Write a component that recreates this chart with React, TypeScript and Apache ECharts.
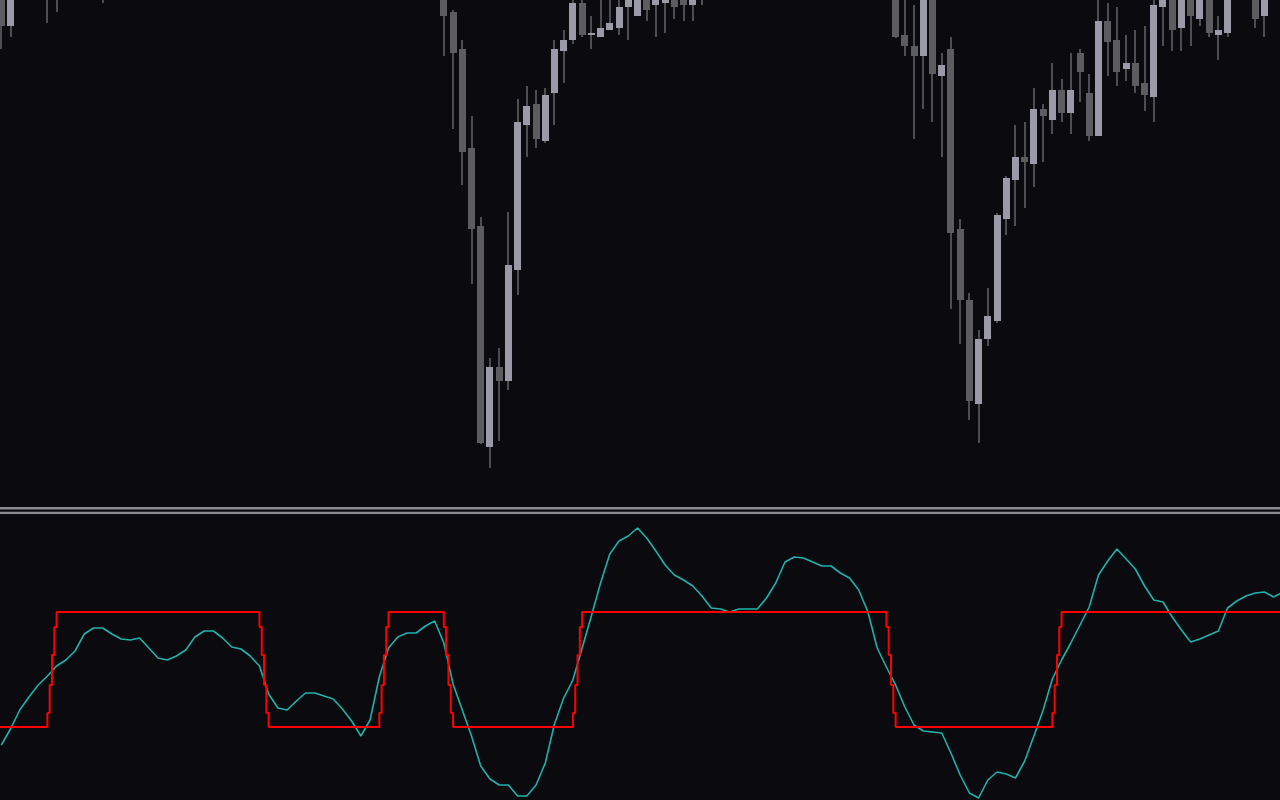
import React, { useEffect, useRef } from "react";
import * as echarts from "echarts";

// ---- Data ----
// Candles: [open, close, low, high]
const ohlc: number[][] = [
  [1030, 974, 951, 1045], [974, 1020, 963, 1030], [1018, 1035, 1008, 1042], [1035, 1028, 1015, 1048],
  [1028, 1040, 1020, 1050], [1040, 1025, 977, 1052], [1025, 1038, 988, 1055], [1038, 1050, 1030, 1062],
  [1050, 1045, 1036, 1066], [1045, 1058, 1040, 1070], [1058, 1052, 1041, 1068], [1052, 1040, 997, 1060],
  [1040, 1055, 1030, 1062], [1055, 1062, 1046, 1071], [1062, 1050, 1044, 1068], [1050, 1066, 1045, 1074],
  [1066, 1078, 1058, 1085], [1078, 1070, 1062, 1088], [1070, 1082, 1064, 1090], [1082, 1090, 1075, 1098],
  [1090, 1080, 1072, 1096], [1080, 1072, 1064, 1088], [1072, 1085, 1066, 1092], [1085, 1094, 1078, 1102],
  [1094, 1088, 1080, 1100], [1088, 1100, 1082, 1108], [1100, 1092, 1084, 1106], [1092, 1078, 1070, 1097],
  [1078, 1068, 1058, 1084], [1068, 1075, 1060, 1082], [1075, 1064, 1056, 1080], [1064, 1072, 1058, 1079],
  [1072, 1085, 1066, 1092], [1085, 1093, 1079, 1100], [1093, 1086, 1078, 1099], [1086, 1098, 1080, 1105],
  [1098, 1090, 1082, 1104], [1090, 1080, 1072, 1095], [1080, 1070, 1062, 1086], [1070, 1076, 1062, 1083],
  [1076, 1066, 1058, 1081], [1066, 1058, 1048, 1072], [1058, 1064, 1050, 1070], [1064, 1052, 1044, 1069],
  [1052, 1045, 1036, 1058], [1045, 1050, 1038, 1056], [1050, 1040, 1030, 1055], [1040, 1018, 1012, 1046],
  [1016, 984, 944, 1024], [988, 947, 871, 990], [951, 848, 815, 960], [852, 771, 716, 884],
  [774, 557, 556, 783], [553, 633, 532, 642], [633, 619, 559, 652], [619, 735, 610, 788],
  [730, 878, 705, 901], [875, 894, 843, 914], [896, 861, 852, 910], [859, 905, 857, 912],
  [907, 951, 875, 960], [949, 960, 917, 970], [960, 997, 956, 1005], [997, 965, 963, 1008],
  [965, 967, 951, 984], [963, 972, 963, 1010], [970, 977, 970, 1012], [972, 993, 965, 1005],
  [993, 1003, 960, 1010], [984, 1003, 984, 1012], [1005, 990, 979, 1015], [995, 1006, 963, 1015],
  [997, 1005, 967, 1012], [1006, 993, 981, 1014], [1004, 995, 979, 1012], [995, 1005, 979, 1012],
  [1008, 1016, 995, 1022], [1016, 1024, 1006, 1030], [1024, 1032, 1015, 1040], [1032, 1026, 1018, 1038],
  [1026, 1038, 1020, 1045], [1038, 1046, 1030, 1054], [1046, 1040, 1032, 1052], [1040, 1052, 1035, 1058],
  [1052, 1060, 1045, 1068], [1060, 1054, 1046, 1066], [1054, 1062, 1048, 1070], [1062, 1070, 1056, 1077],
  [1070, 1064, 1058, 1078], [1064, 1058, 1050, 1070], [1058, 1066, 1052, 1073], [1066, 1060, 1052, 1072],
  [1060, 1052, 1044, 1066], [1052, 1046, 1038, 1058], [1046, 1040, 1030, 1052], [1040, 1034, 1024, 1048],
  [1034, 1028, 1016, 1040], [1026, 963, 962, 1034], [965, 954, 944, 1008], [954, 944, 861, 995],
  [944, 1010, 891, 1018], [1008, 926, 878, 1016], [924, 935, 843, 947], [951, 767, 691, 963],
  [771, 700, 656, 781], [700, 599, 580, 707], [596, 661, 557, 670], [661, 684, 654, 712],
  [679, 785, 677, 787], [781, 822, 765, 824], [820, 843, 774, 875], [843, 838, 792, 878],
  [836, 891, 813, 912], [891, 884, 838, 896], [880, 910, 866, 937], [910, 887, 878, 921],
  [887, 910, 866, 947], [947, 928, 898, 951], [907, 864, 859, 926], [864, 979, 864, 1005],
  [979, 958, 924, 997], [960, 928, 914, 993], [931, 937, 919, 965], [937, 914, 907, 970],
  [917, 905, 889, 974], [903, 995, 878, 1005], [993, 1008, 954, 1016], [1005, 970, 949, 1014],
  [972, 1006, 949, 1015], [1004, 984, 954, 1012], [981, 1005, 974, 1014], [1003, 967, 963, 1012],
  [965, 970, 940, 984], [967, 1005, 963, 1014], [1005, 1020, 1003, 1028], [1020, 1012, 1004, 1026],
  [1005, 981, 972, 1014], [984, 1005, 963, 1013], [1005, 1015, 1002, 1022],
];

// Oscillator (cyan), one value per bar
const oscillator: number[] = [
  -75, -59, -40, -27, -15, -6, 4, 10, 19, 36,
  42, 42, 36, 31, 30, 32, 22, 12, 10, 14,
  20, 33, 39, 39, 32, 23, 21, 14, 4, -24,
  -38, -40, -31, -23, -23, -26, -29, -39, -51, -66,
  -50, -7, 22, 33, 37, 37, 44, 49, 27, -14,
  -40, -66, -96, -109, -115, -115, -126, -126, -115, -93,
  -54, -28, -10, 22, 54, 87, 116, 129, 134, 142,
  132, 119, 105, 95, 90, 84, 74, 62, 61, 58,
  61, 61, 61, 72, 87, 108, 113, 112, 108, 104,
  104, 97, 92, 80, 58, 22, 3, -15, -37, -55,
  -61, -62, -63, -83, -105, -123, -128, -110, -102, -104,
  -108, -91, -66, -40, -9, 10, 27, 45, 63, 95,
  109, 121, 111, 101, 84, 70, 68, 53, 40, 28,
  31, 35, 39, 62, 69, 74, 77, 78, 73, 78,
];

// Signal (red step line): [bar position, level]
const signalSteps: number[][] = [
  [-1, -57], [5, -43], [5.25, -15], [5.5, 15], [5.75, 43], [6, 58],
  [28, 43], [28.25, 15], [28.5, -15], [28.75, -43], [29, -57],
  [41, -43], [41.25, -15], [41.5, 15], [41.75, 43], [42, 58],
  [48, 43], [48.25, 15], [48.5, -15], [48.75, -43], [49, -57],
  [62, -43], [62.25, -15], [62.5, 15], [62.75, 43], [63, 58],
  [96, 43], [96.25, 15], [96.5, -15], [96.75, -43], [97, -57],
  [114, -43], [114.25, -15], [114.5, 15], [114.75, 43], [115, 58],
  [140, 58],
];

const BG = "#0a0a0f";
const BULL = "#9a9aa8";
const BEAR = "#5c5c61";
const WICK = "#4d4d53";

export default function App() {
  const ref = useRef<HTMLDivElement>(null);
  useEffect(() => {
    document.body.style.margin = "0";
    document.body.style.background = BG;
    const chart = echarts.init(ref.current!, null, { renderer: "svg" });
    const xCfg = { type: "value", min: -0.139, max: 138.69, show: false, splitLine: { show: false } };
    chart.setOption({
      animation: false,
      backgroundColor: BG,
      grid: [
        { left: 0, right: 0, top: 0, height: 505 },
        { left: 0, right: 0, top: 500, height: 300 },
      ],
      xAxis: [
        { ...xCfg, gridIndex: 0 },
        { ...xCfg, gridIndex: 1 },
      ],
      yAxis: [
        { type: "value", gridIndex: 0, min: 495, max: 1000, show: false, splitLine: { show: false } },
        { type: "value", gridIndex: 1, min: -130, max: 170, show: false, splitLine: { show: false } },
      ],
      graphic: [
        { type: "rect", shape: { x: 0, y: 507, width: 1280, height: 2.5 }, style: { fill: "#8a8a91" }, silent: true },
        { type: "rect", shape: { x: 0, y: 511.8, width: 1280, height: 2.2 }, style: { fill: "#8a8a91" }, silent: true },
      ],
      series: [
        {
          type: "custom",
          xAxisIndex: 0,
          yAxisIndex: 0,
          clip: true,
          silent: true,
          encode: { x: 0, y: [1, 2, 3, 4] },
          data: ohlc.map((d, k) => [k, d[0], d[1], d[2], d[3]]),
          renderItem: (params: any, api: any) => {
            const k = api.value(0);
            const o = api.value(1);
            const c = api.value(2);
            const l = api.value(3);
            const h = api.value(4);
            const pO = api.coord([k, o]);
            const pC = api.coord([k, c]);
            const pL = api.coord([k, l]);
            const pH = api.coord([k, h]);
            const cx = pO[0];
            const top = Math.round(Math.min(pO[1], pC[1]));
            const bot = Math.round(Math.max(pO[1], pC[1]));
            const bull = c >= o;
            return {
              type: "group",
              children: [
                {
                  type: "rect",
                  shape: { x: Math.round(cx - 1), y: Math.round(pH[1]), width: 2, height: Math.round(pL[1]) - Math.round(pH[1]) },
                  style: { fill: WICK },
                },
                {
                  type: "rect",
                  shape: { x: Math.round(cx - 3.5), y: top, width: 7, height: Math.max(bot - top, 2) },
                  style: { fill: bull ? BULL : BEAR },
                },
              ],
            };
          },
        },
        {
          type: "line",
          xAxisIndex: 1,
          yAxisIndex: 1,
          data: oscillator.map((v, k) => [k, v]),
          showSymbol: false,
          silent: true,
          clip: true,
          lineStyle: { color: "#20b2aa", width: 1.6 },
          z: 2,
        },
        {
          type: "line",
          xAxisIndex: 1,
          yAxisIndex: 1,
          data: signalSteps,
          step: "end",
          showSymbol: false,
          silent: true,
          clip: true,
          lineStyle: { color: "#ff0000", width: 2 },
          z: 3,
        },
      ],
    });
    return () => chart.dispose();
  }, []);
  return <div ref={ref} style={{ width: 1280, height: 800 }} />;
}
